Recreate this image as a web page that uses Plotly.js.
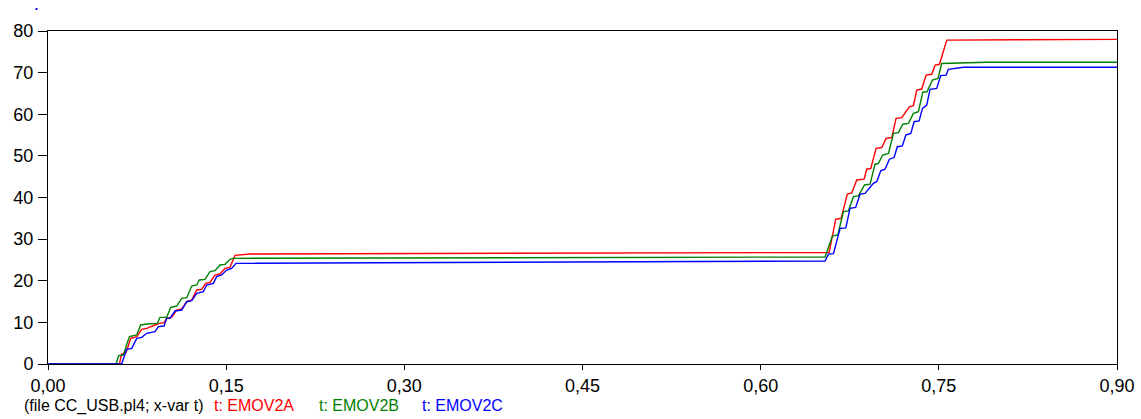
<!DOCTYPE html>
<html>
<head>
<meta charset="utf-8">
<script src="https://cdn.plot.ly/plotly-3.0.1.min.js"></script>
<style>
  html, body { margin: 0; padding: 0; background: #fff; }
  #chart { width: 1141px; height: 419px; }
</style>
</head>
<body>
<div id="chart"></div>
<script>
// ---- data ----
const tA = [0, 0.0601, 0.0620, 0.0657, 0.0696, 0.0747, 0.0789, 0.0831, 0.0901, 0.0937, 0.0977, 0.0999, 0.1041, 0.1083, 0.1126, 0.1168, 0.1210, 0.1252, 0.1294, 0.1328, 0.1364, 0.1406, 0.1448, 0.1490, 0.1532, 0.1575, 0.1701, 0.6550, 0.6576, 0.6632, 0.6677, 0.6730, 0.6767, 0.6809, 0.6871, 0.6893, 0.6927, 0.6972, 0.7019, 0.7056, 0.7104, 0.7140, 0.7188, 0.7252, 0.7286, 0.7314, 0.7356, 0.7393, 0.7440, 0.7469, 0.7505, 0.7567, 0.9];
const vA = [0, 0, 2.4, 2.72, 6.17, 6.57, 8.33, 8.57, 9.37, 9.77, 9.93, 10.97, 11.21, 12.97, 13.21, 14.97, 15.37, 17.78, 17.94, 19.38, 19.62, 21.38, 21.62, 22.98, 23.22, 26.11, 26.43, 26.74, 26.8, 34.75, 35.0, 40.8, 41.1, 44.2, 44.4, 46.8, 47.0, 51.8, 52.0, 54.2, 54.4, 59.0, 59.2, 61.8, 62.05, 65.8, 66.06, 69.4, 69.6, 71.8, 72.0, 77.8, 78.0];

const tB = [0, 0.0573, 0.0595, 0.0634, 0.0685, 0.0747, 0.0780, 0.0831, 0.0921, 0.0943, 0.0999, 0.1033, 0.1083, 0.1126, 0.1168, 0.1210, 0.1252, 0.1274, 0.1322, 0.1364, 0.1406, 0.1448, 0.1490, 0.1532, 0.1561, 0.6542, 0.6604, 0.6649, 0.6697, 0.6739, 0.6781, 0.6823, 0.6874, 0.6921, 0.6963, 0.6991, 0.7028, 0.7076, 0.7118, 0.7160, 0.7196, 0.7244, 0.7286, 0.7328, 0.7365, 0.7400, 0.7446, 0.7493, 0.7524, 0.79, 0.9];
const vB = [0, 0, 2.0, 2.16, 6.57, 6.97, 9.37, 9.61, 9.77, 11.21, 11.21, 13.61, 13.93, 15.78, 15.93, 18.74, 18.98, 20.18, 20.34, 22.18, 22.42, 23.78, 23.94, 25.14, 25.38, 25.7, 30.75, 31.0, 36.6, 36.8, 40.2, 40.4, 43.0, 43.2, 48.0, 48.2, 50.2, 50.6, 55.4, 55.6, 57.6, 57.8, 60.2, 60.6, 65.3, 65.4, 68.2, 68.6, 72.2, 72.5, 72.5];

const tC = [0, 0.0620, 0.0662, 0.0705, 0.0747, 0.0789, 0.0831, 0.0901, 0.0929, 0.0977, 0.0999, 0.1027, 0.1069, 0.1126, 0.1168, 0.1210, 0.1252, 0.1308, 0.1336, 0.1392, 0.1420, 0.1462, 0.1504, 0.1546, 0.1583, 0.6542, 0.6571, 0.6613, 0.6669, 0.6717, 0.6752, 0.6800, 0.6837, 0.6879, 0.6907, 0.6949, 0.6977, 0.7011, 0.7047, 0.7084, 0.7123, 0.7151, 0.7193, 0.7222, 0.7264, 0.7292, 0.7334, 0.7362, 0.7398, 0.7426, 0.7482, 0.7516, 0.7561, 0.7580, 0.7707, 0.9];
const vC = [0, 0, 3.52, 3.76, 6.17, 6.41, 7.37, 7.77, 8.97, 9.13, 10.97, 10.97, 12.73, 12.97, 14.97, 15.21, 16.98, 17.38, 18.98, 19.38, 20.98, 21.38, 22.58, 22.98, 24.18, 24.74, 26.4, 26.5, 32.6, 32.7, 37.4, 37.6, 40.8, 41.0, 42.0, 43.4, 43.8, 46.4, 46.8, 49.2, 49.6, 52.2, 52.4, 55.0, 55.4, 58.2, 58.4, 61.4, 62.2, 66.0, 66.2, 69.3, 69.4, 70.8, 71.3, 71.3];

const seriesNames = ["t: EMOV2A", "t: EMOV2B", "t: EMOV2C"];
const seriesColors = ["#ff0000", "#008000", "#0000ff"];
const xTickVals = [0, 0.15, 0.30, 0.45, 0.60, 0.75, 0.90];
const xTickText = ["0,00", "0,15", "0,30", "0,45", "0,60", "0,75", "0,90"];
const yTickVals = [0, 10, 20, 30, 40, 50, 60, 70, 80];
const fileLabel = "(file CC_USB.pl4; x-var t)";

// ---- chart ----
const FONT = "Liberation Sans, Arial, sans-serif";
const xs = [tA, tB, tC], ys = [vA, vB, vC];
const traces = xs.map((x, i) => ({
  x: x, y: ys[i], type: "scatter", mode: "lines",
  name: seriesNames[i],
  line: { color: seriesColors[i], width: 1.4 },
  hoverinfo: "skip"
}));

// centre positions of the bottom captions (paper fraction)
const legendX = [0.0613, 0.1927, 0.2905, 0.3873];
const legendTexts = [fileLabel].concat(seriesNames);
const legendColors = ["#000000"].concat(seriesColors);
const annotations = legendTexts.map((t, i) => ({
  text: t, xref: "paper", yref: "paper",
  x: legendX[i], y: -0.126, xanchor: "center", yanchor: "middle",
  showarrow: false, font: { family: FONT, size: 16, color: legendColors[i] }
}));

const layout = {
  width: 1141, height: 419,
  margin: { l: 48, r: 24, t: 31, b: 55 },
  paper_bgcolor: "#ffffff", plot_bgcolor: "#ffffff",
  showlegend: false,
  font: { family: FONT, size: 18, color: "#000" },
  xaxis: {
    range: [0, 0.9], tickmode: "array", tickvals: xTickVals, ticktext: xTickText,
    ticks: "outside", ticklen: 5, tickwidth: 1, tickcolor: "#000",
    showline: true, linecolor: "#000", linewidth: 1, mirror: true,
    showgrid: false, zeroline: false, fixedrange: true,
    tickfont: { family: FONT, size: 18, color: "#000" }
  },
  yaxis: {
    range: [0, 80], tickmode: "array", tickvals: yTickVals,
    ticks: "outside", ticklen: 9, tickwidth: 1, tickcolor: "#000",
    showline: true, linecolor: "#000", linewidth: 1, mirror: true,
    showgrid: false, zeroline: false, fixedrange: true,
    ticklabelstandoff: 1,
    tickfont: { family: FONT, size: 18, color: "#000" }
  },
  annotations: annotations,
  shapes: [{
    type: "rect", xref: "paper", yref: "paper",
    x0: -0.0117, x1: -0.0099, y0: 1.063, y1: 1.069,
    fillcolor: "#0000ff", line: { width: 0 }
  }]
};

Plotly.newPlot("chart", traces, layout, { displayModeBar: false, staticPlot: true });
</script>
</body>
</html>
